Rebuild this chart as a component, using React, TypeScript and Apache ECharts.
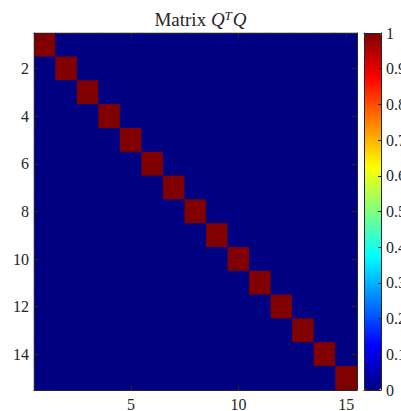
import React, { useEffect, useRef } from "react";
import * as echarts from "echarts";

const categories = ["1","2","3","4","5","6","7","8","9","10","11","12","13","14","15"];
const matrix: number[][] = [
  [1,0,0,0,0,0,0,0,0,0,0,0,0,0,0],
  [0,1,0,0,0,0,0,0,0,0,0,0,0,0,0],
  [0,0,1,0,0,0,0,0,0,0,0,0,0,0,0],
  [0,0,0,1,0,0,0,0,0,0,0,0,0,0,0],
  [0,0,0,0,1,0,0,0,0,0,0,0,0,0,0],
  [0,0,0,0,0,1,0,0,0,0,0,0,0,0,0],
  [0,0,0,0,0,0,1,0,0,0,0,0,0,0,0],
  [0,0,0,0,0,0,0,1,0,0,0,0,0,0,0],
  [0,0,0,0,0,0,0,0,1,0,0,0,0,0,0],
  [0,0,0,0,0,0,0,0,0,1,0,0,0,0,0],
  [0,0,0,0,0,0,0,0,0,0,1,0,0,0,0],
  [0,0,0,0,0,0,0,0,0,0,0,1,0,0,0],
  [0,0,0,0,0,0,0,0,0,0,0,0,1,0,0],
  [0,0,0,0,0,0,0,0,0,0,0,0,0,1,0],
  [0,0,0,0,0,0,0,0,0,0,0,0,0,0,1],
];
const xTickLabels = ["5","10","15"];
const yTickLabels = ["2","4","6","8","10","12","14"];
const jet = ["#000083","#0000FF","#0080FF","#00FFFF","#80FF80","#FFFF00","#FF8000","#FF0000","#800000"];

const FONT = "'Liberation Serif', 'DejaVu Serif', serif";
const INK = "#262626";

export default function App() {
  const ref = useRef<HTMLDivElement>(null);
  useEffect(() => {
    if (!ref.current) return;
    const chart = echarts.init(ref.current, undefined, { renderer: "svg" });
    const data: number[][] = [];
    matrix.forEach((row, r) => row.forEach((v, c) => data.push([c, r, v])));
    const lineStyle = { color: INK, width: 1 };
    const catAxisBase = (extra: any) => ({
      type: "category",
      data: categories,
      z: 10,
      axisLine: { show: true, lineStyle, onZero: false },
      splitLine: { show: false },
      splitArea: { show: false },
      ...extra,
    });
    const plainValueAxis = (gridIndex: number, position: string) => ({
      type: "value", gridIndex, min: 0, max: 1, position, z: 10,
      axisLine: { show: true, lineStyle, onZero: false },
      axisTick: { show: false }, axisLabel: { show: false }, splitLine: { show: false },
    });
    const option: any = {
      animation: false,
      title: {
        text: "{n|Matrix }{i|Q}{s|T}{i|Q}",
        left: 195.5,
        textAlign: "center",
        top: 4,
        textStyle: {
          fontWeight: "normal",
          rich: {
            n: { fontFamily: FONT, fontSize: 19, fontWeight: "normal", color: INK },
            i: { fontFamily: FONT, fontSize: 19, fontWeight: "normal", fontStyle: "italic", color: INK },
            s: { fontFamily: FONT, fontSize: 13, fontWeight: "normal", fontStyle: "italic", color: INK, verticalAlign: "top", padding: [0, 1, 8, 0] },
          },
        },
      },
      grid: [
        { left: 34, top: 33, width: 323, height: 357, outerBoundsMode: "none", containLabel: false,
          show: true, backgroundColor: "#000083", borderWidth: 0 },
        { left: 364, top: 33, width: 17, height: 357, outerBoundsMode: "none", containLabel: false },
      ],
      xAxis: [
        catAxisBase({
          gridIndex: 0,
          position: "bottom",
          axisTick: {
            show: true, inside: true, length: 5, alignWithLabel: true, lineStyle,
            interval: (i: number, v: string) => xTickLabels.includes(v),
          },
          axisLabel: {
            interval: (i: number, v: string) => xTickLabels.includes(v),
            fontFamily: FONT, fontSize: 16, color: INK, margin: 6,
          },
        }),
        catAxisBase({
          gridIndex: 0,
          position: "top",
          axisTick: {
            show: true, inside: true, length: 5, alignWithLabel: true, lineStyle,
            interval: (i: number, v: string) => xTickLabels.includes(v),
          },
          axisLabel: { show: false },
        }),
        plainValueAxis(1, "bottom"),
        plainValueAxis(1, "top"),
      ],
      yAxis: [
        catAxisBase({
          gridIndex: 0,
          position: "left",
          inverse: true,
          axisTick: {
            show: true, inside: true, length: 5, alignWithLabel: true, lineStyle,
            interval: (i: number, v: string) => yTickLabels.includes(v),
          },
          axisLabel: {
            interval: (i: number, v: string) => yTickLabels.includes(v),
            fontFamily: FONT, fontSize: 16, color: INK, margin: 5,
          },
        }),
        catAxisBase({
          gridIndex: 0,
          position: "right",
          inverse: true,
          axisTick: {
            show: true, inside: true, length: 5, alignWithLabel: true, lineStyle,
            interval: (i: number, v: string) => yTickLabels.includes(v),
          },
          axisLabel: { show: false },
        }),
        { type: "value", gridIndex: 1, min: 0, max: 1, interval: 0.1, position: "right", z: 10,
          axisLine: { show: true, lineStyle, onZero: false },
          axisTick: { show: true, inside: true, length: 3, lineStyle },
          axisLabel: { fontFamily: FONT, fontSize: 16, color: INK, margin: 5, hideOverlap: false,
            formatter: (v: number) => String(Math.round(v * 10) / 10) },
          splitLine: { show: false } },
        plainValueAxis(1, "left"),
      ],
      visualMap: {
        type: "continuous",
        min: 0,
        max: 1,
        dimension: 2,
        seriesIndex: 0,
        calculable: false,
        hoverLink: false,
        left: 364,
        top: 33,
        padding: 0,
        itemWidth: 17,
        itemHeight: 357,
        text: null,
        showLabel: false,
        inRange: { color: jet },
      },
      series: [
        {
          type: "heatmap",
          xAxisIndex: 0,
          yAxisIndex: 0,
          data,
          itemStyle: { borderWidth: 0 },
          emphasis: { disabled: true },
        },
        {
          type: "scatter",
          xAxisIndex: 2,
          yAxisIndex: 2,
          data: [],
        },
      ],
    };
    chart.setOption(option);
    return () => chart.dispose();
  }, []);
  return <div ref={ref} style={{ width: 401, height: 411, position: "absolute", left: 0, top: 0 }} />;
}
